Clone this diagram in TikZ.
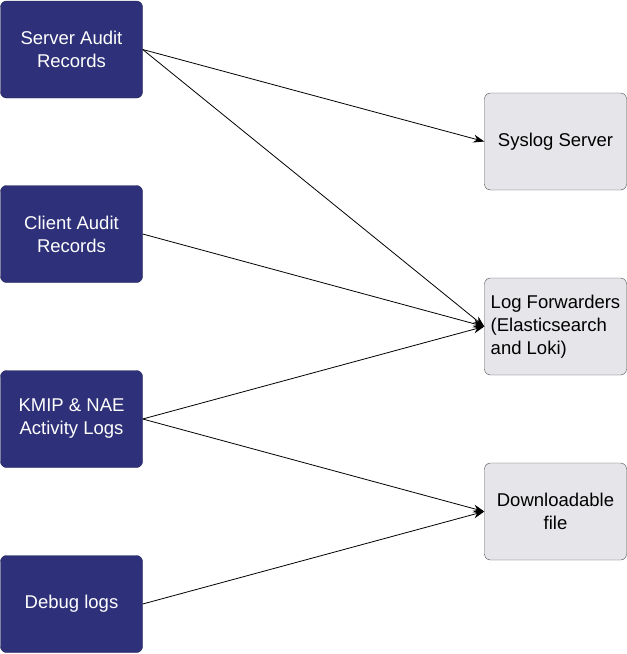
\documentclass[tikz,border=0pt]{standalone}
\usepackage{fontspec}
\setmainfont{Liberation Sans}
\usetikzlibrary{arrows.meta}
\definecolor{navy}{HTML}{2E3179}
\definecolor{lgray}{HTML}{E6E6EA}
\begin{document}
\begin{tikzpicture}[x=1pt,y=-1pt,
  src/.style={draw=navy!70!black,fill=navy,text=white,rounded corners=6pt,minimum width=142pt,minimum height=97pt,align=center,font=\fontsize{18.5}{23}\selectfont,inner sep=0pt},
  dst/.style={draw=black!70,fill=lgray,rounded corners=6pt,minimum width=142pt,minimum height=97pt,align=center,font=\fontsize{18.5}{23}\selectfont,inner sep=0pt},
  arr/.style={-{Stealth[length=11pt,width=8pt]},line width=0.8pt}]
\useasboundingbox (0,0) rectangle (627,654);
\node[src] (sar) at (71.5,49.5) {Server Audit\\Records};
\node[src] (car) at (71.5,234) {Client Audit\\Records};
\node[src] (kmip) at (71.5,419) {KMIP \& NAE\\Activity Logs};
\node[src] (dbg) at (71.5,604) {Debug logs};
\node[dst] (sys) at (555.5,141.5) {Syslog Server};
\node[dst,align=left] (lf) at (555.5,326.5) {Log Forwarders\\(Elasticsearch\\and Loki)};
\node[dst] (dl) at (555.5,511.5) {Downloadable\\file};
\draw[arr] (sar.east) -- (sys.west);
\draw[arr] (sar.east) -- (lf.west);
\draw[arr] (car.east) -- (lf.west);
\draw[arr] (kmip.east) -- (lf.west);
\draw[arr] (kmip.east) -- (dl.west);
\draw[arr] (dbg.east) -- (dl.west);
\end{tikzpicture}
\end{document}
